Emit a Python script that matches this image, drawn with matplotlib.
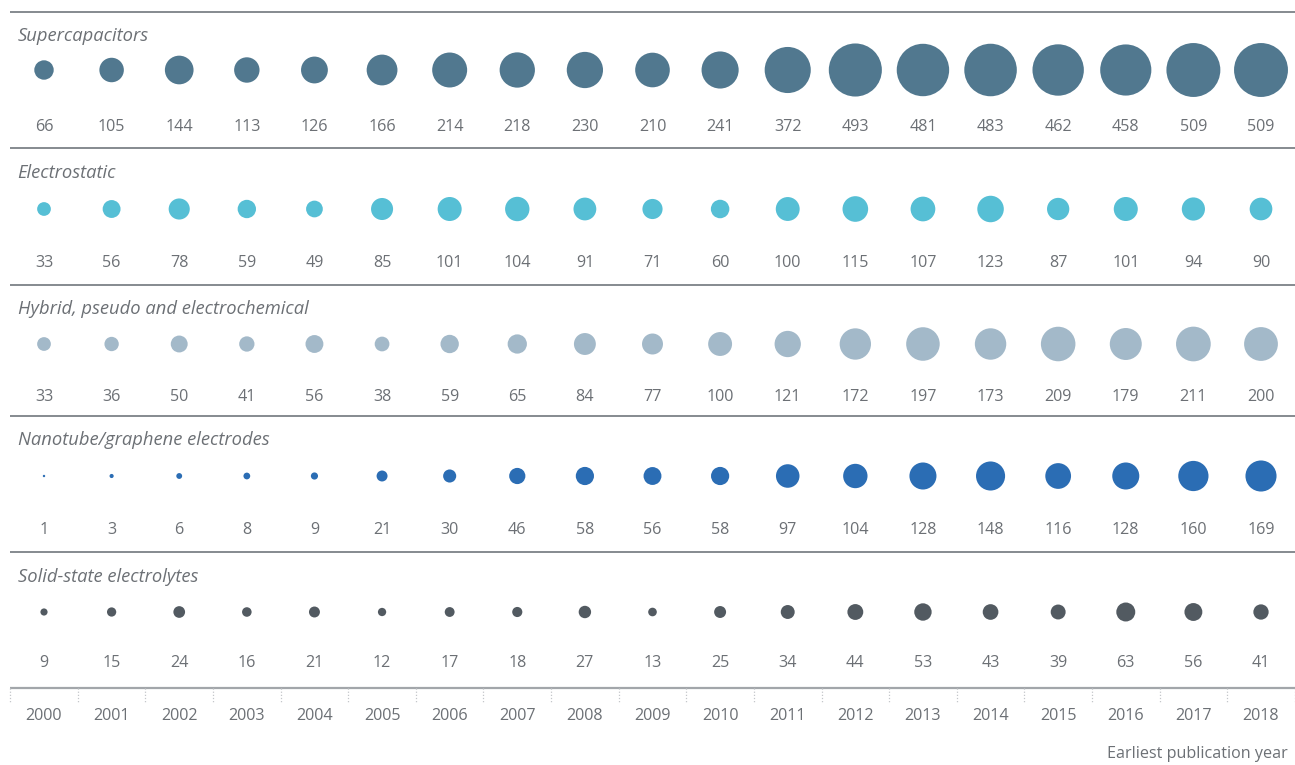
import matplotlib
matplotlib.use("Agg")
import matplotlib.pyplot as plt
import numpy as np

plt.rcParams['font.family'] = ['Open Sans', 'DejaVu Sans']

years = list(range(2000, 2019))

categories = [
    "Supercapacitors",
    "Electrostatic",
    "Hybrid, pseudo and electrochemical",
    "Nanotube/graphene electrodes",
    "Solid-state electrolytes",
]

supercapacitors = [66, 105, 144, 113, 126, 166, 214, 218, 230, 210, 241, 372, 493, 481, 483, 462, 458, 509, 509]
electrostatic = [33, 56, 78, 59, 49, 85, 101, 104, 91, 71, 60, 100, 115, 107, 123, 87, 101, 94, 90]
hybrid = [33, 36, 50, 41, 56, 38, 59, 65, 84, 77, 100, 121, 172, 197, 173, 209, 179, 211, 200]
nanotube = [1, 3, 6, 8, 9, 21, 30, 46, 58, 56, 58, 97, 104, 128, 148, 116, 128, 160, 169]
solid_state = [9, 15, 24, 16, 21, 12, 17, 18, 27, 13, 25, 34, 44, 53, 43, 39, 63, 56, 41]

series = [supercapacitors, electrostatic, hybrid, nanotube, solid_state]
colors = ["#51788f", "#56bfd5", "#a3b9c9", "#2b6db4", "#525a61"]

x_label = "Earliest publication year"

W, H, DPI = 1295, 765, 100
fig = plt.figure(figsize=(W / DPI, H / DPI), dpi=DPI)
ax = fig.add_axes([0, 0, 1, 1])

# x in years, y in pixel rows from the top
px_per_year = (1261 - 44) / 18.0
x0 = 2000 - 44 / px_per_year
x1 = 2018 + (W - 1261) / px_per_year
ax.set_xlim(x0, x1)
ax.set_ylim(H, 0)
ax.axis("off")

text_color = "#6c7075"
rule_color = "#646b72"
text_weight = "normal"

row_tops = [12, 148, 285, 416, 552]
axis_y = 688
title_dy = [24, 25, 24, 24, 25]
bubble_dy = [58, 61, 59, 60, 60]
value_dy = [115, 115, 112, 114, 111]

# diameter in pixels grows with the square root of the value
k = 2.39
left, right = years[0] - 0.5, years[-1] + 0.5

for i, (name, vals, col) in enumerate(zip(categories, series, colors)):
    top = row_tops[i]
    ax.plot([left, right], [top, top], color=rule_color, lw=1.1, solid_capstyle="butt")
    ax.text(left + 0.11, top + title_dy[i], name, fontsize=13.2, style="italic",
            weight=text_weight, color=text_color, va="center", ha="left")
    vals = np.asarray(vals, dtype=float)
    d_pt = k * np.sqrt(vals) * 72.0 / DPI
    ax.scatter(years, [top + bubble_dy[i]] * len(years), s=d_pt ** 2, color=col,
               linewidths=0, zorder=3)
    for yr, v in zip(years, vals):
        ax.text(yr, top + value_dy[i], f"{int(v)}", fontsize=11.6, color=text_color,
                weight=text_weight, ha="center", va="center")

# year axis
ax.plot([left, right], [axis_y, axis_y], color="#a2a6aa", lw=1.6, solid_capstyle="butt")
for b in np.arange(left, right + 0.01, 1.0):
    ax.plot([b, b], [axis_y, axis_y + 15], color="#c4c7ca", lw=0.9, ls=(0, (1, 1.5)))
for yr in years:
    ax.text(yr, 716, str(yr), fontsize=11.6, color=text_color, weight=text_weight,
            ha="center", va="center")

ax.text(right - 0.1, 754, x_label, fontsize=11.6, color=text_color, weight=text_weight,
        ha="right", va="center")

fig.savefig("out.png", dpi=DPI)
